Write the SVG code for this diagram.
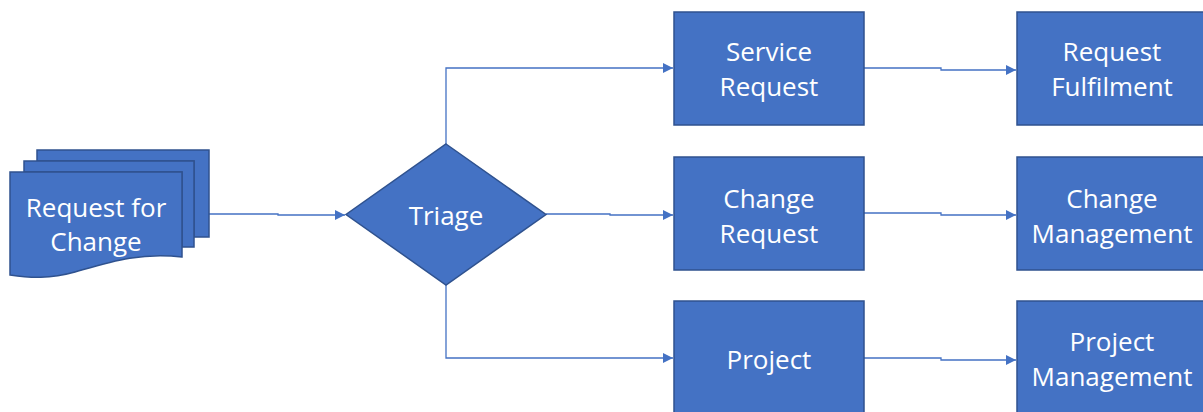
<svg xmlns="http://www.w3.org/2000/svg" width="1203" height="412" viewBox="0 0 1203 412">
  <style>
    .shape { fill: #4472C4; stroke: #2F528F; stroke-width: 1.5; }
    .label { fill: #FFFFFF; font-family: "Open Sans", "Noto Sans", "Liberation Sans", sans-serif; font-size: 26px; text-anchor: middle; }
    .conn { fill: none; stroke: #4472C4; stroke-width: 1.3; }
  </style>
  <defs>
    <marker id="arrow" viewBox="0 0 10 10" refX="10" refY="5" markerWidth="10" markerHeight="10" markerUnits="userSpaceOnUse" orient="auto">
      <path d="M0,0 L10,5 L0,10 Z" fill="#4472C4"/>
    </marker>
  </defs>
  <rect width="1203" height="412" fill="#FFFFFF"/>

  <g id="connectors">
    <path class="conn" d="M209,214 H278 V215 H345" marker-end="url(#arrow)"/>
    <path class="conn" d="M446,144 V68 H673" marker-end="url(#arrow)"/>
    <path class="conn" d="M546,214 H610 V215 H673" marker-end="url(#arrow)"/>
    <path class="conn" d="M446,285 V358 H673" marker-end="url(#arrow)"/>
    <path class="conn" d="M864,68 H941 V70 H1016" marker-end="url(#arrow)"/>
    <path class="conn" d="M864,213 H941 V215 H1016" marker-end="url(#arrow)"/>
    <path class="conn" d="M864,358 H941 V360 H1016" marker-end="url(#arrow)"/>
  </g>

  <g id="request-for-change">
    <path class="shape" d="M37,150 H209 V237 H194 V161 H37 Z"/>
    <path class="shape" d="M24,161 H194 V247 H182 V172 H24 Z"/>
    <path class="shape" d="M10,172 H182 V257 C140,252 110,262 75,272 C50,279 30,278 10,275 Z"/>
    <text class="label" x="96" y="217">Request for</text>
    <text class="label" x="96" y="251">Change</text>
  </g>

  <g id="triage">
    <path class="shape" d="M446,144 L546,214.5 L446,285 L346,214.5 Z"/>
    <text class="label" x="446" y="225">Triage</text>
  </g>

  <g id="service-request">
    <rect class="shape" x="674" y="12" width="190" height="113"/>
    <text class="label" x="769" y="61">Service</text>
    <text class="label" x="769" y="96">Request</text>
  </g>

  <g id="change-request">
    <rect class="shape" x="674" y="157" width="190" height="113"/>
    <text class="label" x="769" y="208">Change</text>
    <text class="label" x="769" y="243">Request</text>
  </g>

  <g id="project">
    <rect class="shape" x="674" y="301" width="190" height="113"/>
    <text class="label" x="769" y="369">Project</text>
  </g>

  <g id="request-fulfilment">
    <rect class="shape" x="1017" y="12" width="190" height="113"/>
    <text class="label" x="1112" y="61">Request</text>
    <text class="label" x="1112" y="96">Fulfilment</text>
  </g>

  <g id="change-management">
    <rect class="shape" x="1017" y="157" width="190" height="113"/>
    <text class="label" x="1112" y="208">Change</text>
    <text class="label" x="1112" y="243">Management</text>
  </g>

  <g id="project-management">
    <rect class="shape" x="1017" y="301" width="190" height="113"/>
    <text class="label" x="1112" y="351">Project</text>
    <text class="label" x="1112" y="386">Management</text>
  </g>
</svg>
